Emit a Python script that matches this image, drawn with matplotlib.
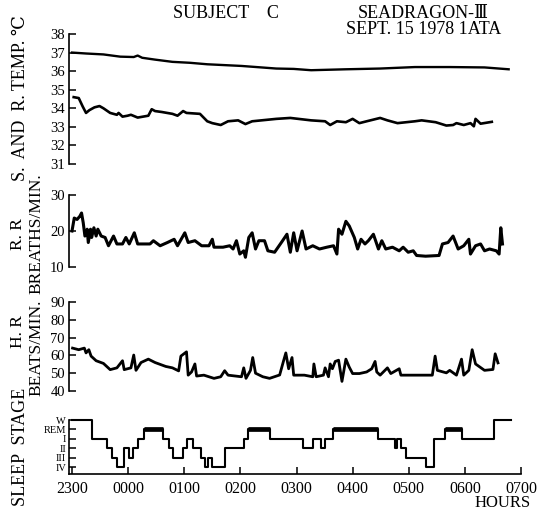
import matplotlib
matplotlib.use("Agg")
import matplotlib.pyplot as plt

plt.rcParams['font.family'] = ['Liberation Serif', 'DejaVu Serif']

# hours after 2300
temp_s_t = [0, 0.25, 0.56, 0.86, 1.10, 1.17, 1.25, 1.48, 1.79, 2.1, 2.41, 3.02,
            3.64, 3.95, 4.26, 4.88, 5.49, 6.11, 6.73, 7.35, 7.78]
temp_s = [37.0, 36.95, 36.9, 36.78, 36.76, 36.84, 36.72, 36.62, 36.5, 36.45, 36.37, 36.28,
          36.14, 36.12, 36.05, 36.1, 36.14, 36.22, 36.22, 36.2, 36.1]

temp_r_t = [0.03, 0.12, 0.19, 0.25, 0.31, 0.40, 0.49, 0.56, 0.68, 0.80, 0.83, 0.90, 0.99,
            1.05, 1.17, 1.36, 1.42, 1.48, 1.60, 1.79, 1.88, 1.98, 2.04, 2.28, 2.41, 2.50,
            2.65, 2.78, 2.96, 3.09, 3.21, 3.64, 3.89, 4.26, 4.51, 4.60, 4.72, 4.88, 5.00,
            5.12, 5.25, 5.49, 5.62, 5.80, 6.11, 6.23, 6.48, 6.67, 6.79, 6.85, 6.98, 7.10,
            7.16, 7.19, 7.28, 7.48]
temp_r = [34.6, 34.55, 34.1, 33.75, 33.9, 34.05, 34.12, 34.0, 33.75, 33.65, 33.75, 33.55, 33.6,
          33.65, 33.5, 33.6, 33.95, 33.85, 33.8, 33.7, 33.6, 33.85, 33.75, 33.7, 33.3, 33.2,
          33.1, 33.3, 33.35, 33.15, 33.3, 33.43, 33.48, 33.35, 33.3, 33.1, 33.3, 33.25, 33.43,
          33.2, 33.3, 33.48, 33.35, 33.2, 33.3, 33.35, 33.25, 33.07, 33.1, 33.2, 33.1, 33.2,
          33.03, 33.43, 33.17, 33.27]

rr_t = [0, 0.04, 0.09, 0.14, 0.17, 0.20, 0.23, 0.27, 0.29, 0.33, 0.35, 0.39, 0.43, 0.46,
        0.52, 0.59, 0.65, 0.74, 0.80, 0.90, 0.96, 1.02, 1.11, 1.17, 1.39, 1.45, 1.57, 1.70,
        1.82, 1.88, 2.01, 2.07, 2.19, 2.31, 2.44, 2.50, 2.53, 2.69, 2.81, 2.87, 2.93, 2.99,
        3.06, 3.09, 3.15, 3.21, 3.27, 3.33, 3.43, 3.49, 3.61, 3.73, 3.83, 3.89, 3.95, 4.01,
        4.10, 4.17, 4.29, 4.41, 4.54, 4.66, 4.72, 4.75, 4.81, 4.88, 4.94, 5.03, 5.09, 5.15,
        5.22, 5.28, 5.37, 5.46, 5.52, 5.59, 5.71, 5.83, 5.90, 5.99, 6.08, 6.14, 6.30, 6.54,
        6.60, 6.70, 6.79, 6.88, 6.98, 7.07, 7.10, 7.19, 7.28, 7.35, 7.44, 7.56, 7.61, 7.64,
        7.67]
rr = [20, 23.6, 23.2, 24.1, 25, 22.3, 18.6, 20.5, 16.8, 20.5, 18.2, 20.9, 18.6, 20.5,
      18.6, 18.2, 15.9, 18.6, 16.4, 16.4, 18.2, 16.4, 19.5, 16.4, 16.4, 17.3, 15.9, 16.8,
      17.7, 15.9, 19.5, 16.8, 17.3, 15.9, 15.9, 17.7, 15.5, 15.5, 15.9, 15.0, 17.3, 13.6,
      14.5, 12.7, 18.2, 19.5, 15.0, 17.3, 17.3, 14.5, 14.1, 16.8, 19.1, 14.1, 19.5, 14.5,
      20.0, 15.0, 15.9, 15.0, 15.5, 15.9, 13.6, 20.5, 19.1, 22.7, 21.4, 18.2, 15.0, 17.7,
      16.4, 17.3, 19.1, 15.0, 17.3, 15.0, 15.5, 14.5, 15.5, 14.1, 14.5, 13.2, 13.0, 13.2,
      16.4, 16.8, 18.6, 15.0, 15.9, 17.7, 13.6, 15.9, 16.4, 14.5, 15.0, 14.5, 13.6, 20.9,
      16.4]

hr_t = [0.01, 0.12, 0.22, 0.25, 0.30, 0.34, 0.43, 0.56, 0.68, 0.80, 0.90, 0.93, 1.05, 1.10,
        1.14, 1.23, 1.36, 1.48, 1.67, 1.79, 1.90, 1.94, 2.04, 2.07, 2.13, 2.19, 2.22, 2.35,
        2.53, 2.65, 2.72, 2.78, 3.02, 3.06, 3.10, 3.18, 3.22, 3.27, 3.40, 3.52, 3.70, 3.77,
        3.81, 3.86, 3.92, 3.95, 4.14, 4.29, 4.31, 4.35, 4.48, 4.51, 4.57, 4.60, 4.64, 4.69,
        4.75, 4.81, 4.88, 4.94, 5.00, 5.12, 5.25, 5.34, 5.40, 5.43, 5.49, 5.62, 5.68, 5.83,
        5.86, 6.11, 6.42, 6.47, 6.51, 6.67, 6.73, 6.85, 6.94, 6.98, 7.07, 7.13, 7.19, 7.35,
        7.50, 7.54, 7.59]
hr = [64.1, 63.2, 64.1, 61.4, 63.2, 59.6, 57, 55.5, 52, 53, 57, 52, 53, 60.2,
      51.6, 56, 57.9, 56, 53.8, 53, 51.3, 59.6, 62, 48.9, 50.7, 55.2, 48.4, 48.9,
      47.1, 48, 51.4, 48.9, 48, 53, 47.1, 51.6, 58.8, 50, 48, 47.1, 49, 57,
      61.4, 52.5, 58.8, 48.9, 48.9, 48, 55.2, 48, 48.9, 53, 48, 55.2, 52.5, 56.6,
      57.3, 45.4, 57.9, 53.4, 49.8, 49.8, 50.7, 52.5, 56.6, 50.7, 48.9, 53, 49.8, 52.5,
      48.9, 48.9, 48.9, 59.6, 51.6, 50.2, 51.6, 48.9, 57.9, 48.9, 51.6, 63.2, 55.2, 51.6,
      52.1, 60.9, 55.8]

# sleep stage: 0=W 1=REM 2=I 3=II 4=III 5=IV
sleep_t = [0, 0.35, 0.62, 0.71, 0.81, 0.92, 1.02, 1.09, 1.17, 1.28, 1.63, 1.73, 1.80, 1.98,
           2.05, 2.16, 2.30, 2.37, 2.43, 2.49, 2.72, 3.06, 3.13, 3.52, 4.12, 4.30, 4.43,
           4.51, 4.65, 5.45, 5.75, 5.79, 5.86, 5.95, 6.30, 6.45, 6.65, 6.94, 7.52, 7.83]
sleep = [0, 2, 3, 4, 5, 3, 4, 3, 2, 1, 2, 3, 4, 3,
         2, 3, 4, 5, 4, 5, 3, 2, 1, 2, 3, 2, 3,
         2, 1, 2, 3, 2, 3, 4, 5, 2, 1, 2, 0, 0]
stage_labels = ['W', 'REM', 'I', 'II', 'III', 'IV']
hour_labels = ['2300', '0000', '0100', '0200', '0300', '0400', '0500', '0600', '0700']

W, H = 543, 512
fig = plt.figure(figsize=(W / 100, H / 100), dpi=100)
x0, x1 = -3 / 56.125, (538 - 72) / 56.125


def panel(top, bottom):
    ax = fig.add_axes([69 / W, 1 - bottom / H, (538 - 69) / W, (bottom - top) / H])
    ax.set_xlim(x0, x1)
    for s in ['top', 'right', 'bottom']:
        ax.spines[s].set_visible(False)
    ax.spines['left'].set_linewidth(1.2)
    ax.tick_params(axis='y', direction='in', length=5, width=1.1, labelsize=10.5, pad=3)
    ax.set_xticks([])
    ax.patch.set_alpha(0)
    return ax


ax1 = panel(34, 164)
ax1.plot(temp_s_t, temp_s, color='black', lw=1.7)
ax1.plot(temp_r_t, temp_r, color='black', lw=1.9)
ax1.set_ylim(31, 38)
ax1.set_yticks(range(31, 39))

ax2 = panel(195, 267)
ax2.plot(rr_t, rr, color='black', lw=2.2)
ax2.set_ylim(10, 30)
ax2.set_yticks([10, 20, 30])

ax3 = panel(302, 391)
ax3.plot(hr_t, hr, color='black', lw=2.0)
ax3.set_ylim(40, 90)
ax3.set_yticks(range(40, 91, 10))

ax4 = panel(420, 474)
ax4.step(sleep_t, sleep, where='post', color='black', lw=1.5, clip_on=False)
for i in range(len(sleep) - 1):
    if sleep[i] == 1:
        ax4.plot([sleep_t[i], sleep_t[i + 1]], [1, 1], color='black', lw=3.4,
                 solid_capstyle='butt')
ax4.set_ylim(5.74, 0)
ax4.set_yticks(range(6))
ax4.set_yticklabels(stage_labels)
ax4.tick_params(axis='y', labelsize=7.5, pad=2)
ax4.spines['bottom'].set_visible(True)
ax4.spines['bottom'].set_linewidth(1.2)
ax4.spines['bottom'].set_bounds(x0, 8)
ax4.set_xticks(range(9))
ax4.set_xticklabels(hour_labels)
ax4.tick_params(axis='x', direction='in', length=5, width=1.1, labelsize=11.5, pad=5)

fig.text(531 / W, 1 - 495 / H, 'HOURS', ha='right', va='top', fontsize=12)

fig.text(226 / W, 1 - 13 / H, 'SUBJECT    C', ha='center', va='center', fontsize=13)
fig.text(423 / W, 1 - 13 / H, 'SEADRAGON-Ⅲ', ha='center', va='center', fontsize=13)
fig.text(424 / W, 1 - 29 / H, 'SEPT. 15 1978 1ATA', ha='center', va='center', fontsize=13)

fig.text(21 / W, 1 - 98 / H, 'S.  AND  R. TEMP. ℃', rotation=90, ha='center', va='center',
         fontsize=13)
fig.text(18 / W, 1 - 234 / H, 'R. R', rotation=90, ha='center', va='center', fontsize=12.5)
fig.text(36 / W, 1 - 234 / H, 'BREATHS/MIN.', rotation=90, ha='center', va='center',
         fontsize=12.5)
fig.text(18 / W, 1 - 332 / H, 'H. R', rotation=90, ha='center', va='center', fontsize=12.5)
fig.text(36 / W, 1 - 348 / H, 'BEATS/MIN.', rotation=90, ha='center', va='center',
         fontsize=12.5)
fig.text(21 / W, 1 - 447 / H, 'SLEEP  STAGE', rotation=90, ha='center', va='center',
         fontsize=13)

fig.savefig('out.png', dpi=100)
